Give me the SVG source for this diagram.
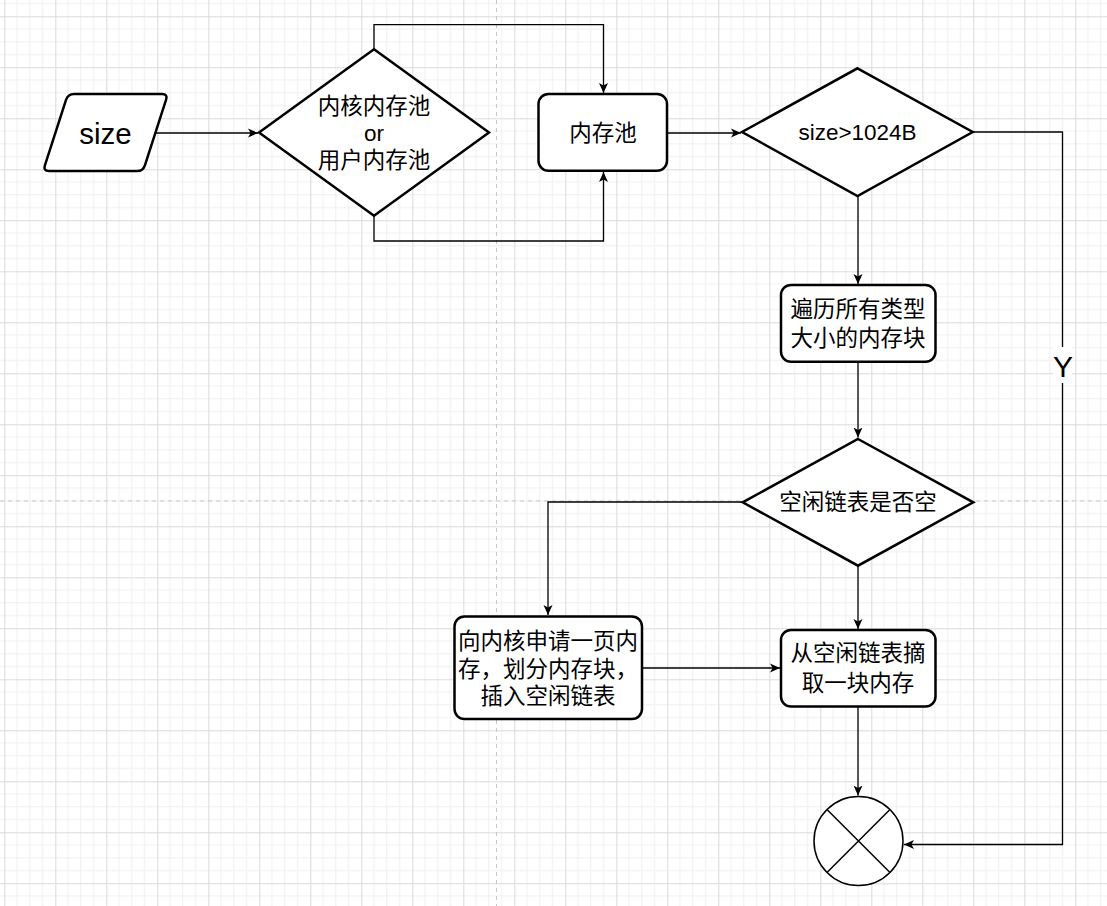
<svg xmlns="http://www.w3.org/2000/svg" width="1107" height="906" viewBox="0 0 1107 906">
<defs>
<pattern id="grid" patternUnits="userSpaceOnUse" x="4.3" y="16.3" width="51" height="51">
<path d="M12.75,0V51M25.5,0V51M38.25,0V51M0,12.75H51M0,25.5H51M0,38.25H51" stroke="#efefef" stroke-width="1" fill="none"/>
<path d="M0.5,0V51M0,0.5H51" stroke="#dadada" stroke-width="1" fill="none"/>
</pattern>
<marker id="arr" viewBox="0 0 10 10" refX="10" refY="5" markerWidth="10" markerHeight="10" markerUnits="userSpaceOnUse" orient="auto">
<path d="M0,0.5 L10,5 L0,9.5 L2.6,5 Z" fill="#000"/>
</marker>
</defs>
<style>
.shape{fill:#fff;stroke:#000;stroke-width:2.5}
.edge{fill:none;stroke:#000;stroke-width:1.3;marker-end:url(#arr)}
.t{font-family:"Liberation Sans","Noto Sans CJK SC",sans-serif;font-size:22.5px;fill:#000;text-anchor:middle;dominant-baseline:central}
.page{stroke:#c6c6c6;stroke-width:1;stroke-dasharray:4 4;fill:none}
</style>
<rect width="1107" height="906" fill="#fff"/>
<rect width="1107" height="906" fill="url(#grid)"/>
<path class="page" d="M496.5,0V906M0,501H1107"/>

<g id="connectors">
<path class="edge" d="M155.5,133H258"/>
<path class="edge" d="M374,49V24.7H603.5V93"/>
<path class="edge" d="M374,216V241H603.5V172"/>
<path class="edge" d="M667,133H741"/>
<path class="edge" d="M973,132H1062.5V844.5H904"/>
<path class="edge" d="M858,196V284"/>
<path class="edge" d="M858,362V437.5"/>
<path class="edge" d="M742.5,502H548V615"/>
<path class="edge" d="M858,566V629"/>
<path class="edge" d="M642,668H780"/>
<path class="edge" d="M858,706V795.5"/>
<rect x="1053" y="347" width="19" height="36" fill="#fff"/>
<text class="t" x="1063" y="366" style="font-size:30px">Y</text>
</g>

<g id="node-size">
<path class="shape" d="M74,94 L162,94 Q168,94 166.1,99.7 L144.9,165.3 Q143,171 137,171 L49,171 Q43,171 44.9,165.3 L66.1,99.7 Q68,94 74,94 Z"/>
<text class="t" x="105.5" y="133" style="font-size:29.5px">size</text>
</g>

<g id="node-pooltype">
<path class="shape" d="M374,49.3 L489,132.5 L374,215.7 L259,132.5 Z"/>
<text class="t" x="374" y="106.5">内核内存池</text>
<text class="t" x="374" y="133">or</text>
<text class="t" x="374" y="160">用户内存池</text>
</g>

<g id="node-pool">
<rect class="shape" x="538.5" y="94" width="128.5" height="76.7" rx="10"/>
<text class="t" x="603" y="133">内存池</text>
</g>

<g id="node-sizecheck">
<path class="shape" d="M857.5,68.3 L972.7,132 L857.5,196 L742,132 Z"/>
<text class="t" x="857.5" y="132">size&gt;1024B</text>
</g>

<g id="node-traverse">
<rect class="shape" x="781" y="285" width="154.5" height="76.7" rx="10"/>
<text class="t" x="858" y="309">遍历所有类型</text>
<text class="t" x="858" y="338.5">大小的内存块</text>
</g>

<g id="node-emptycheck">
<path class="shape" d="M858,439 L973.3,502.3 L858,565.7 L742.7,502.3 Z"/>
<text class="t" x="858" y="502.5">空闲链表是否空</text>
</g>

<g id="node-request">
<rect class="shape" x="454.5" y="616.5" width="187.5" height="102.5" rx="10"/>
<text class="t" x="548" y="641">向内核申请一页内</text>
<text class="t" x="548" y="669">存，划分内存块，</text>
<text class="t" x="548" y="696.5">插入空闲链表</text>
</g>

<g id="node-take">
<rect class="shape" x="781" y="630" width="154.5" height="76.5" rx="10"/>
<text class="t" x="858" y="653">从空闲链表摘</text>
<text class="t" x="858" y="683">取一块内存</text>
</g>

<g id="node-end">
<circle cx="858.5" cy="841" r="44.5" fill="#fff" stroke="#000" stroke-width="1.5"/>
<path d="M827,809.5L890,872.5M890,809.5L827,872.5" stroke="#000" stroke-width="1.5" fill="none"/>
</g>
</svg>
